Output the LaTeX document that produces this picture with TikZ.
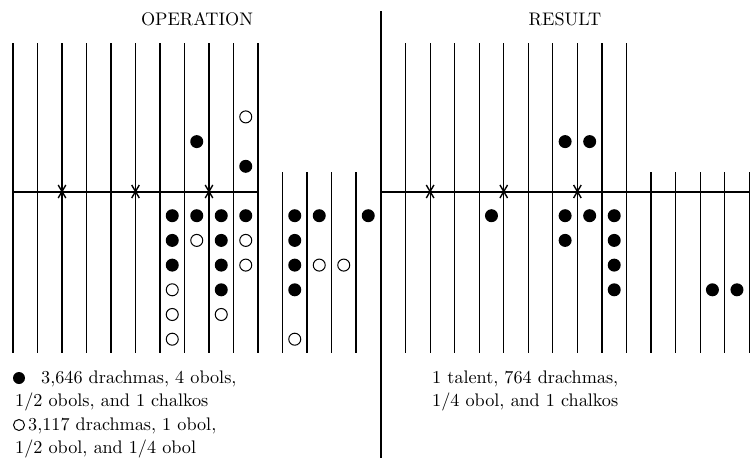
\documentclass[tikz,border=0pt]{standalone}
\font\boardrm=cmr10 at 18.2pt
\begin{document}
\begin{tikzpicture}[x=1pt,y=-1pt,
  rod/.style={line width=1.2pt},
  beam/.style={line width=1.5pt},
  divider/.style={line width=1.8pt},
  xmark/.style={line width=1.4pt},
  fullc/.style={circle,fill=black,minimum size=13pt,inner sep=0pt},
  openc/.style={circle,draw=black,line width=1pt,minimum size=12pt,inner sep=0pt},
  lbl/.style={anchor=base west,inner sep=0pt,font=\boardrm},
  ttl/.style={anchor=base,inner sep=0pt,font=\boardrm}]
\useasboundingbox (0,0) rectangle (750,463);
% titles
\node[ttl] (opT) at (197,25) {OPERATION};
\node[ttl] (resT) at (565,25) {RESULT};
% divider
\draw[divider] (381,11) -- (381,458);
% left board
\foreach \k in {0,...,10} \draw[rod] (13+24.5*\k,43) -- (13+24.5*\k,353);
\foreach \k in {11,...,14} \draw[rod] (13+24.5*\k,172) -- (13+24.5*\k,353);
\draw[beam] (13,192) -- (258,192);
\foreach \k in {2,5,8} {
  \draw[xmark] (13+24.5*\k-3.8,185) -- (13+24.5*\k+3.8,198)
               (13+24.5*\k+3.8,185) -- (13+24.5*\k-3.8,198);
}
% right board
\foreach \k in {1,...,10} \draw[rod] (381+24.55*\k,43) -- (381+24.55*\k,353);
\foreach \k in {11,...,15} \draw[rod] (381+24.55*\k,172) -- (381+24.55*\k,353);
\draw[beam] (381,192) -- (750,192);
\foreach \k in {2,5,8} {
  \draw[xmark] (381+24.55*\k-3.8,185) -- (381+24.55*\k+3.8,198)
               (381+24.55*\k+3.8,185) -- (381+24.55*\k-3.8,198);
}
% left pebbles
\foreach \k/\r in {6/1,6/2,6/3,7/1,8/1,8/2,8/3,8/4,9/1,11/1,11/2,11/3,11/4,12/1,14/1,7/-2,9/-1}
  \node[fullc] (LF-\k-\r) at (13+24.5*\k+12.25,191+24.7*\r) {};
\foreach \k/\r in {6/4,6/5,6/6,7/2,8/5,9/2,9/3,11/6,12/3,13/3,9/-3}
  \node[openc] (LO-\k-\r) at (13+24.5*\k+12.25,191+24.7*\r) {};
% right pebbles
\foreach \k/\r in {4/1,7/1,7/2,8/1,9/1,9/2,9/3,9/4,13/4,14/4,7/-2,8/-2}
  \node[fullc] (RF-\k-\r) at (381+24.55*\k+12.275,191+24.7*\r) {};
% legend
\node[fullc,minimum size=12pt] (legF) at (19,378) {};
\node[openc,minimum size=11pt] (legO) at (19,425) {};
\node[lbl] (t1) at (41,383) {3,646 drachmas, 4 obols,};
\node[lbl] (t2) at (15,406.5) {1/2 obols, and 1 chalkos};
\node[lbl] (t3) at (28,430) {3,117 drachmas, 1 obol,};
\node[lbl] (t4) at (15,453.5) {1/2 obol, and 1/4 obol};
\node[lbl] (r1) at (432,383) {1 talent, 764 drachmas,};
\node[lbl] (r2) at (432,406.5) {1/4 obol, and 1 chalkos};
\end{tikzpicture}
\end{document}
